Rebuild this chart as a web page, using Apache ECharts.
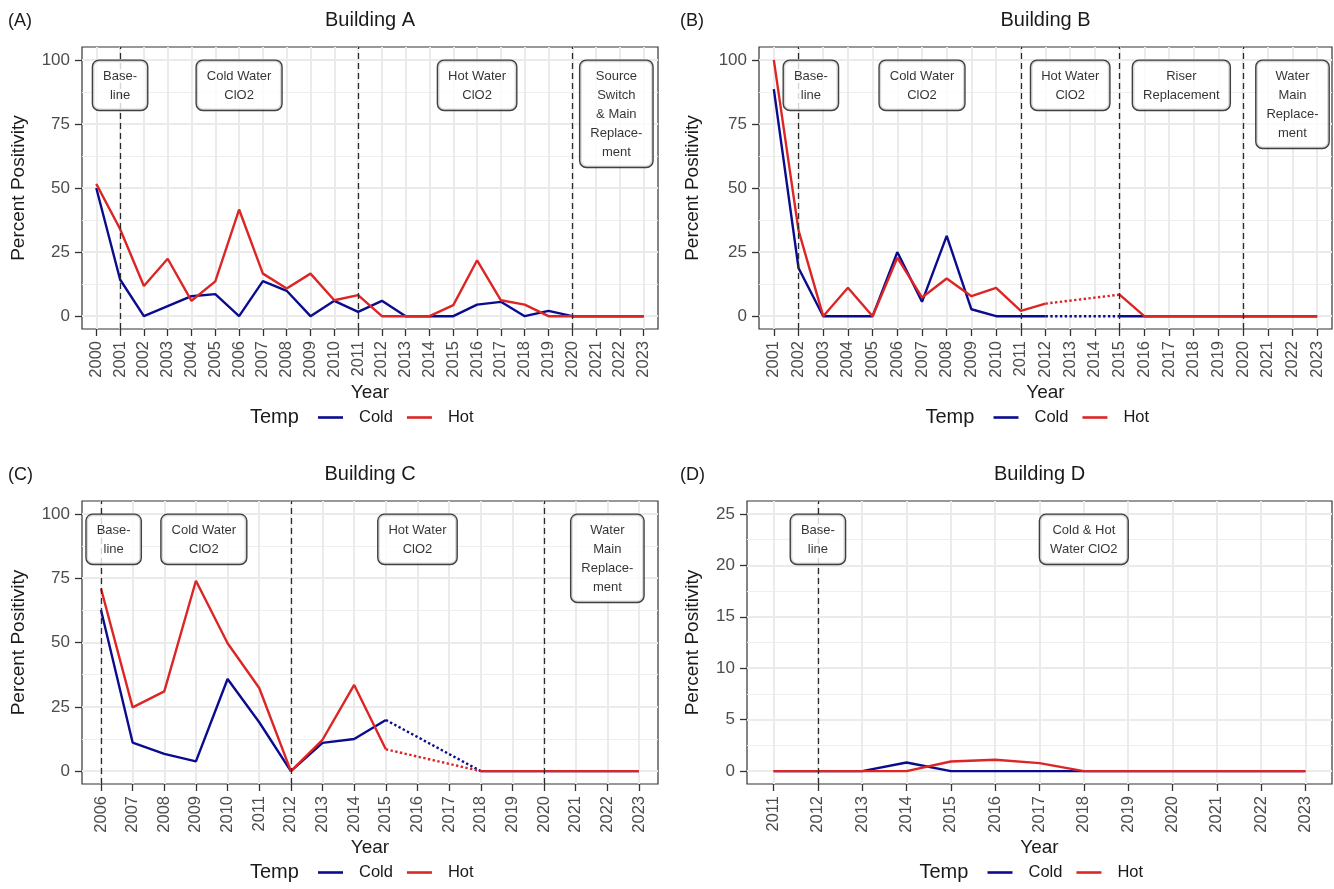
<!DOCTYPE html>
<html><head><meta charset="utf-8">
<script src="https://cdn.jsdelivr.net/npm/echarts@6/dist/echarts.min.js"></script>
<style>html,body{margin:0;padding:0;background:#fff}#c{width:1334px;height:889px}</style>
</head><body><div id="c"></div>
<script>
// ---------------- DATA ----------------
const yearsA = [2000,2001,2002,2003,2004,2005,2006,2007,2008,2009,2010,2011,2012,2013,2014,2015,2016,2017,2018,2019,2020,2021,2022,2023];
const coldA  = [50,14.3,0,3.9,7.8,8.6,0,13.7,9.9,0,6,1.7,6,0,0,0,4.5,5.6,0,2.1,0,0,0,0];
const hotA   = [51.6,34,11.8,22.4,6,13.6,41.6,16.6,10.8,16.6,6.2,8.2,0,0,0,4.3,21.8,6.2,4.5,0,0,0,0,0];

const yearsB = [2001,2002,2003,2004,2005,2006,2007,2008,2009,2010,2011,2012,2013,2014,2015,2016,2017,2018,2019,2020,2021,2022,2023];
const coldB  = [88.6,18.8,0,0,0,25,5.6,31.3,2.7,0,0,0,null,null,0,0,0,0,0,0,0,0,0];
const hotB   = [100,33.5,0,11.1,0,22.8,7.3,14.7,7.8,11,2.1,4.9,null,null,8.4,0,0,0,0,0,0,0,0];

const yearsC = [2006,2007,2008,2009,2010,2011,2012,2013,2014,2015,2016,2017,2018,2019,2020,2021,2022,2023];
const coldC  = [62.6,11.1,6.7,3.8,35.8,19,0,11,12.5,19.9,null,null,0,0,0,0,0,0];
const hotC   = [71,24.8,31,74,49.7,32.3,0,12.2,33.5,8.5,null,null,0,0,0,0,0,0];

const yearsD = [2011,2012,2013,2014,2015,2016,2017,2018,2019,2020,2021,2022,2023];
const coldD  = [0,0,0,0.84,0,0,0,0,0,0,0,0,0];
const hotD   = [0,0,0,0,0.94,1.1,0.78,0,0,0,0,0,0];

const yTicksABC = [0,25,50,75,100];
const yTicksD   = [0,5,10,15,20,25];

const phaseLinesA = [2001,2011,2020];
const phaseLinesB = [2002,2011,2015,2020];
const phaseLinesC = [2006,2012,2020];
const phaseLinesD = [2012];

const notesA = ["Base-\nline","Cold Water\nClO2","Hot Water\nClO2","Source\nSwitch\n& Main\nReplace-\nment"];
const notesAx = [2001,2006,2016,2021.85];
const notesB = ["Base-\nline","Cold Water\nClO2","Hot Water\nClO2","Riser\nReplacement","Water\nMain\nReplace-\nment"];
const notesBx = [2002.5,2007,2013,2017.5,2022];
const notesC = ["Base-\nline","Cold Water\nClO2","Hot Water\nClO2","Water\nMain\nReplace-\nment"];
const notesCx = [2006.4,2009.25,2016,2022];
const notesD = ["Base-\nline","Cold & Hot\nWater ClO2"];
const notesDx = [2012,2018];

const titles = ["Building A","Building B","Building C","Building D"];
const tags = ["(A)","(B)","(C)","(D)"];
const seriesNames = ["Cold","Hot"];

// ---------------- LAYOUT / STYLE ----------------
const FONT = "Liberation Sans, Arial, Helvetica, sans-serif";
const COLD = "#0B0B8E", HOT = "#DC2626";
const panels = [
  {years:yearsA, cold:coldA, hot:hotA, ticks:yTicksABC, lines:phaseLinesA, notes:notesA, notesX:notesAx, noteY:100,
   grid:{left:82, top:47, width:576, height:282}, yTitleX:19},
  {years:yearsB, cold:coldB, hot:hotB, ticks:yTicksABC, lines:phaseLinesB, notes:notesB, notesX:notesBx, noteY:100,
   grid:{left:759, top:47, width:573, height:282}, yTitleX:693},
  {years:yearsC, cold:coldC, hot:hotC, ticks:yTicksABC, lines:phaseLinesC, notes:notesC, notesX:notesCx, noteY:100,
   grid:{left:82, top:501, width:576, height:283}, yTitleX:19},
  {years:yearsD, cold:coldD, hot:hotD, ticks:yTicksD, lines:phaseLinesD, notes:notesD, notesX:notesDx, noteY:25,
   grid:{left:747, top:501, width:585, height:283}, yTitleX:693}
];

function pairs(years, vals){ return years.map((y,i)=>[y, vals[i]==null ? null : vals[i]]); }
function gapBridges(years, vals){
  // connect last point before each run of missing values with the first one after it
  const out = [];
  for (let i=1;i<vals.length;i++){
    if (vals[i]==null && vals[i-1]!=null){
      let j=i; while(j<vals.length && vals[j]==null) j++;
      if (j<vals.length){ out.push([years[i-1],vals[i-1]],[years[j],vals[j]],[null,null]); }
    }
  }
  return out;
}

const grids=[], xAxes=[], yAxes=[], series=[], legends=[], graphics=[];
panels.forEach((p,k)=>{
  grids.push(Object.assign({show:true, borderColor:'#333', borderWidth:1.2, backgroundColor:'#fff'}, p.grid));
  const first=p.years[0], last=p.years[p.years.length-1];
  xAxes.push({
    type:'value', gridIndex:k, min:first-0.6, max:last+0.6, minInterval:1, maxInterval:1,
    axisLine:{show:false, onZero:false},
    axisTick:{show:true, inside:false, customValues:p.years, length:7, lineStyle:{color:'#333', width:1.3}},
    axisLabel:{customValues:p.years, rotate:90, fontSize:16.5, color:'#4D4D4D', fontFamily:FONT, margin:12,
      formatter:v=>Number.isInteger(v)?String(v):''},
    splitLine:{show:true, lineStyle:{color:'#EBEBEB', width:2}}
  });
  const step = p.ticks[1]-p.ticks[0];
  const top = p.ticks[p.ticks.length-1];
  const pad = top*0.05;
  yAxes.push({
    type:'value', gridIndex:k, min:-pad, max:top+pad, minInterval:step, maxInterval:step,
    axisLine:{show:false, onZero:false},
    axisTick:{show:true, inside:false, customValues:p.ticks, length:7, lineStyle:{color:'#333', width:1.3}},
    axisLabel:{customValues:p.ticks, fontSize:17, color:'#4D4D4D', fontFamily:FONT, margin:12,
      formatter:v=>p.ticks.indexOf(v)>=0?String(v):''},
    splitLine:{show:true, lineStyle:{color:'#EBEBEB', width:2}},
    minorTick:{show:false, splitNumber:2},
    minorSplitLine:{show:true, lineStyle:{color:'#EFEFEF', width:1}}
  });
  const lineBase = {type:'line', xAxisIndex:k, yAxisIndex:k, showSymbol:false, symbol:'none', connectNulls:false, animation:false, silent:true};
  series.push(Object.assign({}, lineBase, {
    name:seriesNames[0], color:COLD, lineStyle:{width:2.4, color:COLD}, data:pairs(p.years,p.cold), z:3,
    markLine:{silent:true, symbol:'none', animation:false, label:{show:false},
      lineStyle:{type:[6,4], color:'#2a2a2a', width:1.3}, data:p.lines.map(x=>({xAxis:x}))}
  }));
  series.push(Object.assign({}, lineBase, {
    name:'cold-gap-'+k, color:COLD, lineStyle:{width:2.4, color:COLD, type:'dotted'}, data:gapBridges(p.years,p.cold), z:3
  }));
  series.push(Object.assign({}, lineBase, {
    name:seriesNames[1], color:HOT, lineStyle:{width:2.4, color:HOT}, data:pairs(p.years,p.hot), z:4
  }));
  series.push(Object.assign({}, lineBase, {
    name:'hot-gap-'+k, color:HOT, lineStyle:{width:2.4, color:HOT, type:'dotted'}, data:gapBridges(p.years,p.hot), z:4
  }));
  series.push({
    type:'scatter', name:'notes-'+k, xAxisIndex:k, yAxisIndex:k, symbol:'circle', symbolSize:2, silent:true, animation:false, z:10,
    itemStyle:{color:'rgba(0,0,0,0)'},
    label:{show:true, position:'bottom', distance:0, formatter:'{b}', fontSize:13, lineHeight:19, color:'#000', fontFamily:FONT,
      backgroundColor:'#fff', borderColor:'#111', borderWidth:1.4, borderRadius:6, padding:[6,10,5,10], align:'center'},
    labelLayout:{hideOverlap:false},
    data:p.notes.map((t,i)=>({name:t, value:[p.notesX[i], p.noteY]}))
  });
  const cx = p.grid.left + p.grid.width/2;
  const rowTop = p.grid.top;
  const bottom = p.grid.top + p.grid.height;
  legends.push({
    data:seriesNames.map(n=>({name:n, icon:'rect'})), left:cx-52, top:bottom+80, padding:0, itemWidth:25, itemHeight:2.6, itemGap:14, selectedMode:false,
    textStyle:{fontSize:16.5, color:'#1a1a1a', fontFamily:FONT, padding:[0,0,0,11]}
  });
  graphics.push(
    {type:'text', x:(k%2===0?8:680), y:rowTop-26, style:{text:tags[k], font:'18px '+FONT, fill:'#1a1a1a', textVerticalAlign:'middle'}},
    {type:'text', x:cx, y:rowTop-27, style:{text:titles[k], font:'20px '+FONT, fill:'#1a1a1a', textAlign:'center', textVerticalAlign:'middle'}},
    {type:'text', x:p.yTitleX, y:rowTop+p.grid.height/2, rotation:Math.PI/2,
      style:{text:'Percent Positivity', font:'19px '+FONT, fill:'#1a1a1a', textAlign:'center', textVerticalAlign:'middle'}},
    {type:'text', x:cx, y:bottom+64, style:{text:'Year', font:'19px '+FONT, fill:'#1a1a1a', textAlign:'center', textVerticalAlign:'middle'}},
    {type:'text', x:cx-120, y:bottom+88, style:{text:'Temp', font:'20px '+FONT, fill:'#1a1a1a', textVerticalAlign:'middle'}}
  );
});

const chart = echarts.init(document.getElementById('c'), null, {renderer:'canvas'});
chart.setOption({
  animation:false,
  backgroundColor:'#fff',
  grid:grids, xAxis:xAxes, yAxis:yAxes, series:series, legend:legends,
  graphic:graphics
});
</script></body></html>
